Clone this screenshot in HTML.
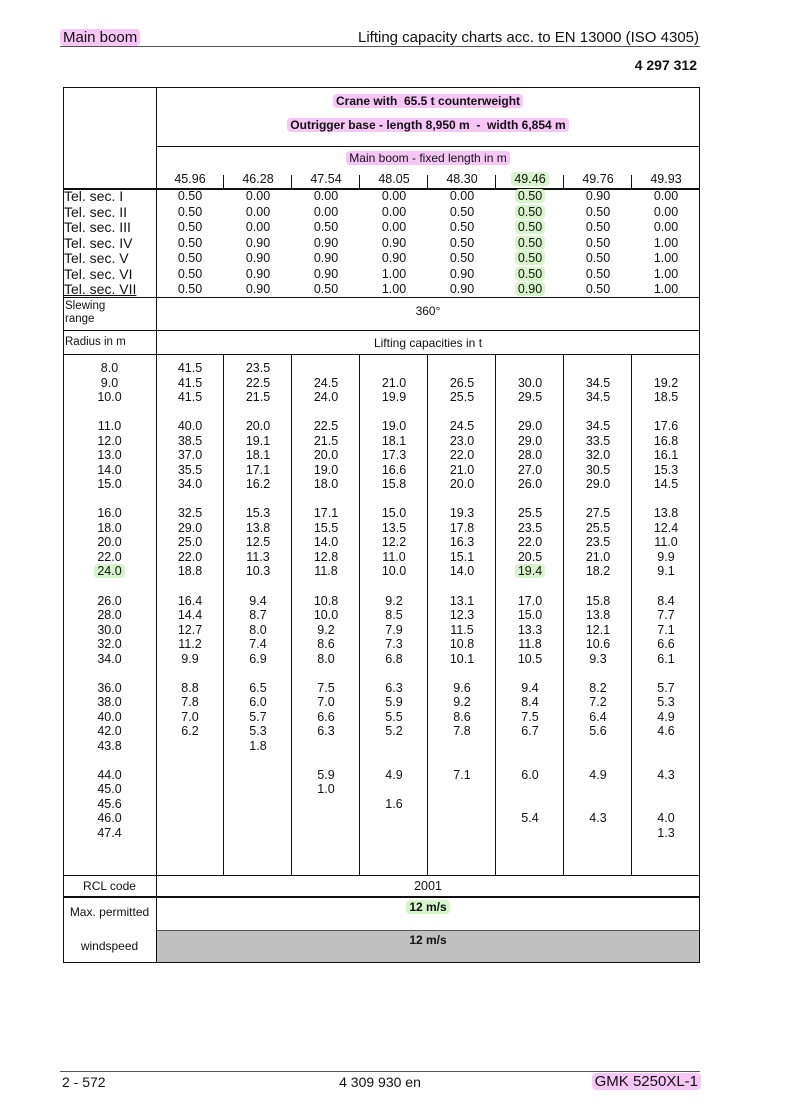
<!DOCTYPE html>
<html><head><meta charset="utf-8"><style>
body{margin:0;width:785px;height:1111px;background:#fff;font-family:"Liberation Sans",Arial,sans-serif;color:#111;position:relative;overflow:hidden}
.a{position:absolute}
.h{background:#111;position:absolute;height:1px}
.v{background:#111;position:absolute;width:1px}
.pk{background:#f7c6f7;border-radius:4px;padding:0 3px}
.gr{background:#d6f5c9;border-radius:4px;padding:0 3px}
.col{position:absolute;top:361px;width:68px;text-align:center;font-size:12.5px;line-height:14.53px}
.tc{position:absolute;top:189px;width:68px;text-align:center;font-size:12.5px;line-height:15.5px}
.ln{position:absolute;top:172px;width:68px;text-align:center;font-size:12.5px}
</style></head><body>
<div class="a" style="left:60px;top:29px;font-size:15px"><span class="pk">Main boom</span></div>
<div class="a" style="right:86px;top:29px;font-size:15px">Lifting capacity charts acc. to EN 13000 (ISO 4305)</div>
<div class="h" style="left:60px;top:46px;width:640px;background:#555"></div>
<div class="a" style="right:88px;top:57px;font-size:14px;font-weight:bold">4 297 312</div>

<div class="h" style="left:63px;top:87px;width:637px"></div>
<div class="h" style="left:156px;top:146px;width:544px"></div>
<div class="h" style="left:63px;top:188px;width:637px;height:2px"></div>
<div class="h" style="left:63px;top:297px;width:637px"></div>
<div class="h" style="left:63px;top:330px;width:637px"></div>
<div class="h" style="left:63px;top:354px;width:637px"></div>
<div class="h" style="left:63px;top:875px;width:637px"></div>
<div class="h" style="left:63px;top:896px;width:637px;height:2px"></div>
<div class="h" style="left:156px;top:930px;width:544px;height:2px;background:#555"></div>
<div class="h" style="left:63px;top:962px;width:637px"></div>
<div class="v" style="left:63px;top:87px;height:876px"></div>
<div class="v" style="left:699px;top:87px;height:876px"></div>
<div class="v" style="left:156px;top:87px;height:876px"></div>
<div class="a" style="left:157px;top:931px;width:542px;height:31px;background:#c0c0c0"></div>

<div class="v" style="left:223px;top:175px;height:13px"></div>
<div class="v" style="left:291px;top:175px;height:13px"></div>
<div class="v" style="left:359px;top:175px;height:13px"></div>
<div class="v" style="left:427px;top:175px;height:13px"></div>
<div class="v" style="left:495px;top:175px;height:13px"></div>
<div class="v" style="left:563px;top:175px;height:13px"></div>
<div class="v" style="left:631px;top:175px;height:13px"></div>

<div class="v" style="left:223px;top:354px;height:521px"></div>
<div class="v" style="left:291px;top:354px;height:521px"></div>
<div class="v" style="left:359px;top:354px;height:521px"></div>
<div class="v" style="left:427px;top:354px;height:521px"></div>
<div class="v" style="left:495px;top:354px;height:521px"></div>
<div class="v" style="left:563px;top:354px;height:521px"></div>
<div class="v" style="left:631px;top:354px;height:521px"></div>

<div class="a" style="left:157px;width:542px;top:94px;text-align:center;font-size:12px;font-weight:bold"><span class="pk">Crane with&nbsp; 65.5 t counterweight</span></div>
<div class="a" style="left:157px;width:542px;top:118px;text-align:center;font-size:12px;font-weight:bold"><span class="pk">Outrigger base - length 8,950 m&nbsp; -&nbsp; width 6,854 m</span></div>
<div class="a" style="left:157px;width:542px;top:151px;text-align:center;font-size:12px"><span class="pk">Main boom - fixed length in m</span></div>

<div class="ln" style="left:156px">45.96</div>
<div class="ln" style="left:224px">46.28</div>
<div class="ln" style="left:292px">47.54</div>
<div class="ln" style="left:360px">48.05</div>
<div class="ln" style="left:428px">48.30</div>
<div class="ln" style="left:496px"><span class="gr">49.46</span></div>
<div class="ln" style="left:564px">49.76</div>
<div class="ln" style="left:632px">49.93</div>

<div class="a" style="left:64px;top:189px;font-size:14px;line-height:15.5px">Tel. sec. I<br>Tel. sec. II<br>Tel. sec. III<br>Tel. sec. IV<br>Tel. sec. V<br>Tel. sec. VI<br><u>Tel. sec. VII</u></div>
<div class="tc" style="left:156px">0.50<br>0.50<br>0.50<br>0.50<br>0.50<br>0.50<br>0.50</div>
<div class="tc" style="left:224px">0.00<br>0.00<br>0.00<br>0.90<br>0.90<br>0.90<br>0.90</div>
<div class="tc" style="left:292px">0.00<br>0.00<br>0.50<br>0.90<br>0.90<br>0.90<br>0.50</div>
<div class="tc" style="left:360px">0.00<br>0.00<br>0.00<br>0.90<br>0.90<br>1.00<br>1.00</div>
<div class="tc" style="left:428px">0.00<br>0.50<br>0.50<br>0.50<br>0.50<br>0.90<br>0.90</div>
<div class="tc" style="left:496px"><span class="gr">0.50</span><br><span class="gr">0.50</span><br><span class="gr">0.50</span><br><span class="gr">0.50</span><br><span class="gr">0.50</span><br><span class="gr">0.50</span><br><span class="gr">0.90</span></div>
<div class="tc" style="left:564px">0.90<br>0.50<br>0.50<br>0.50<br>0.50<br>0.50<br>0.50</div>
<div class="tc" style="left:632px">0.00<br>0.00<br>0.00<br>1.00<br>1.00<br>1.00<br>1.00</div>

<div class="a" style="left:65px;top:300px;font-size:11.5px;line-height:13px">Slewing<br>range</div>
<div class="a" style="left:157px;width:542px;top:304px;text-align:center;font-size:12px">360°</div>
<div class="a" style="left:65px;top:336px;font-size:11.5px">Radius in m</div>
<div class="a" style="left:157px;width:542px;top:336px;text-align:center;font-size:12px">Lifting capacities in t</div>

<div class="col" style="left:63px;width:93px">8.0<br>9.0<br>10.0<br>&nbsp;<br>11.0<br>12.0<br>13.0<br>14.0<br>15.0<br>&nbsp;<br>16.0<br>18.0<br>20.0<br>22.0<br><span class="gr">24.0</span><br>&nbsp;<br>26.0<br>28.0<br>30.0<br>32.0<br>34.0<br>&nbsp;<br>36.0<br>38.0<br>40.0<br>42.0<br>43.8<br>&nbsp;<br>44.0<br>45.0<br>45.6<br>46.0<br>47.4</div>
<div class="col" style="left:156px">41.5<br>41.5<br>41.5<br>&nbsp;<br>40.0<br>38.5<br>37.0<br>35.5<br>34.0<br>&nbsp;<br>32.5<br>29.0<br>25.0<br>22.0<br>18.8<br>&nbsp;<br>16.4<br>14.4<br>12.7<br>11.2<br>9.9<br>&nbsp;<br>8.8<br>7.8<br>7.0<br>6.2</div>
<div class="col" style="left:224px">23.5<br>22.5<br>21.5<br>&nbsp;<br>20.0<br>19.1<br>18.1<br>17.1<br>16.2<br>&nbsp;<br>15.3<br>13.8<br>12.5<br>11.3<br>10.3<br>&nbsp;<br>9.4<br>8.7<br>8.0<br>7.4<br>6.9<br>&nbsp;<br>6.5<br>6.0<br>5.7<br>5.3<br>1.8</div>
<div class="col" style="left:292px">&nbsp;<br>24.5<br>24.0<br>&nbsp;<br>22.5<br>21.5<br>20.0<br>19.0<br>18.0<br>&nbsp;<br>17.1<br>15.5<br>14.0<br>12.8<br>11.8<br>&nbsp;<br>10.8<br>10.0<br>9.2<br>8.6<br>8.0<br>&nbsp;<br>7.5<br>7.0<br>6.6<br>6.3<br>&nbsp;<br>&nbsp;<br>5.9<br>1.0</div>
<div class="col" style="left:360px">&nbsp;<br>21.0<br>19.9<br>&nbsp;<br>19.0<br>18.1<br>17.3<br>16.6<br>15.8<br>&nbsp;<br>15.0<br>13.5<br>12.2<br>11.0<br>10.0<br>&nbsp;<br>9.2<br>8.5<br>7.9<br>7.3<br>6.8<br>&nbsp;<br>6.3<br>5.9<br>5.5<br>5.2<br>&nbsp;<br>&nbsp;<br>4.9<br>&nbsp;<br>1.6</div>
<div class="col" style="left:428px">&nbsp;<br>26.5<br>25.5<br>&nbsp;<br>24.5<br>23.0<br>22.0<br>21.0<br>20.0<br>&nbsp;<br>19.3<br>17.8<br>16.3<br>15.1<br>14.0<br>&nbsp;<br>13.1<br>12.3<br>11.5<br>10.8<br>10.1<br>&nbsp;<br>9.6<br>9.2<br>8.6<br>7.8<br>&nbsp;<br>&nbsp;<br>7.1</div>
<div class="col" style="left:496px">&nbsp;<br>30.0<br>29.5<br>&nbsp;<br>29.0<br>29.0<br>28.0<br>27.0<br>26.0<br>&nbsp;<br>25.5<br>23.5<br>22.0<br>20.5<br><span class="gr">19.4</span><br>&nbsp;<br>17.0<br>15.0<br>13.3<br>11.8<br>10.5<br>&nbsp;<br>9.4<br>8.4<br>7.5<br>6.7<br>&nbsp;<br>&nbsp;<br>6.0<br>&nbsp;<br>&nbsp;<br>5.4</div>
<div class="col" style="left:564px">&nbsp;<br>34.5<br>34.5<br>&nbsp;<br>34.5<br>33.5<br>32.0<br>30.5<br>29.0<br>&nbsp;<br>27.5<br>25.5<br>23.5<br>21.0<br>18.2<br>&nbsp;<br>15.8<br>13.8<br>12.1<br>10.6<br>9.3<br>&nbsp;<br>8.2<br>7.2<br>6.4<br>5.6<br>&nbsp;<br>&nbsp;<br>4.9<br>&nbsp;<br>&nbsp;<br>4.3</div>
<div class="col" style="left:632px">&nbsp;<br>19.2<br>18.5<br>&nbsp;<br>17.6<br>16.8<br>16.1<br>15.3<br>14.5<br>&nbsp;<br>13.8<br>12.4<br>11.0<br>9.9<br>9.1<br>&nbsp;<br>8.4<br>7.7<br>7.1<br>6.6<br>6.1<br>&nbsp;<br>5.7<br>5.3<br>4.9<br>4.6<br>&nbsp;<br>&nbsp;<br>4.3<br>&nbsp;<br>&nbsp;<br>4.0<br>1.3</div>

<div class="a" style="left:63px;width:93px;top:879px;text-align:center;font-size:12px">RCL code</div>
<div class="a" style="left:157px;width:542px;top:879px;text-align:center;font-size:12.5px">2001</div>
<div class="a" style="left:63px;width:93px;top:905px;text-align:center;font-size:12px">Max. permitted</div>
<div class="a" style="left:157px;width:542px;top:900px;text-align:center;font-size:12px;font-weight:bold"><span class="gr">12 m/s</span></div>
<div class="a" style="left:63px;width:93px;top:939px;text-align:center;font-size:12px">windspeed</div>
<div class="a" style="left:157px;width:542px;top:933px;text-align:center;font-size:12px;font-weight:bold">12 m/s</div>

<div class="h" style="left:60px;top:1071px;width:640px;background:#555"></div>
<div class="a" style="left:62px;top:1074px;font-size:14px">2 - 572</div>
<div class="a" style="left:300px;width:160px;top:1074px;text-align:center;font-size:14px">4 309 930 en</div>
<div class="a" style="right:84px;top:1073px;font-size:15px"><span class="pk">GMK 5250XL-1</span></div>
</body></html>
